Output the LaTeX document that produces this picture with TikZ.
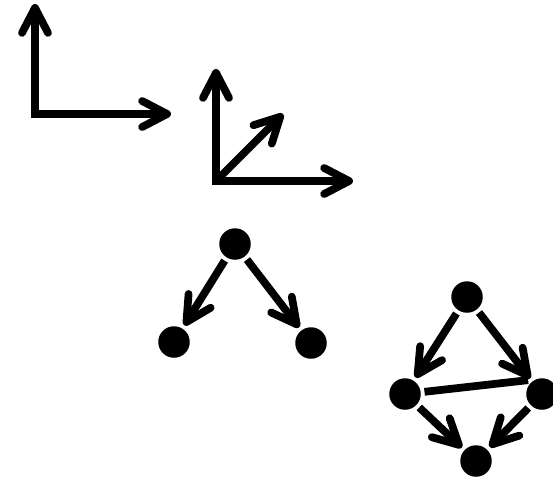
\documentclass[tikz,border=0pt]{standalone}
\usepackage{tikz}
\usetikzlibrary{arrows.meta,positioning}
\tikzstyle{vertex} = [circle,fill=black,inner sep=0pt,minimum size=0.63cm]
\tikzset{>={Straight Barb[length=0.5cm,width=0.52cm,round]}}

\begin{document}
\begin{tikzpicture}[x=0.02cm,y=-0.02cm,line width=0.155cm]
    \useasboundingbox (0,0) rectangle (553,478);
    \coordinate (o1) at (35,114);
    \coordinate (y1) at (35,4);
    \coordinate (x1) at (171,114);
    \draw[<->] (y1) -- (o1) -- (x1);
    \coordinate (o2) at (216,181);
    \coordinate (y2) at (216,69);
    \coordinate (x2) at (353,181);
    \coordinate (z2) at (283,114);
    \draw[<->] (y2) -- (o2) -- (x2);
    \draw[->] (o2) -- (z2);
    \node [vertex] (t1) at (235,244) {};
    \node [vertex] (l1) at (174,342) {};
    \node [vertex] (r1) at (311,343) {};
    \draw[->] (t1) -- (l1);
    \draw[->] (t1) -- (r1);
    \node [vertex] (t2) at (467,297) {};
    \node [vertex] (l2) at (405,394) {};
    \node [vertex] (r2) at (542,394) {};
    \node [vertex] (b2) at (476,461) {};
    \draw[->] (t2) -- (l2);
    \draw[->] (t2) -- (r2);
    \draw (l2) -- (r2.north west);
    \draw[->] (l2) -- (b2);
    \draw[->] (r2) -- (b2);
\end{tikzpicture}
\end{document}
